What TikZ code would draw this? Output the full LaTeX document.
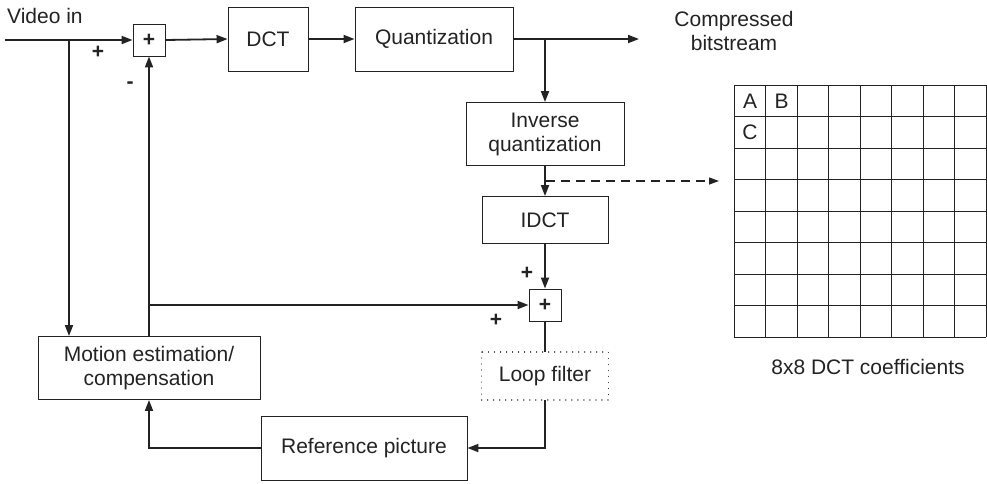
\documentclass[tikz,border=0pt]{standalone}
\usepackage{fontspec}
\setmainfont{Liberation Sans}
\usetikzlibrary{arrows.meta,calc}
\definecolor{ink}{RGB}{35,35,35}
\begin{document}
\begin{tikzpicture}[x=1pt,y=-1pt,
  every node/.style={font=\fontsize{21}{24}\selectfont, text=ink},
  blk/.style={draw=ink, line width=0.9pt, inner sep=0pt, align=center},
  sumbox/.style={draw=ink, line width=0.9pt, minimum width=32pt, minimum height=32pt, inner sep=0pt, font=\fontsize{21}{24}\selectfont\bfseries},
  conn/.style={draw=ink, line width=1.8pt},
  arr/.style={conn, -{Triangle[length=11pt,width=8pt]}},
  dasharr/.style={draw=ink, line width=1.3pt, dash pattern=on 9pt off 6pt, -{Triangle[length=10pt,width=7pt]}},
  sign/.style={font=\fontsize{21}{24}\selectfont\bfseries, inner sep=0pt},
  cell/.style={draw=ink, line width=0.8pt}
]
\useasboundingbox (0,0) rectangle (987,483);
\fill[white] (0,0) rectangle (987,483);

% nodes
\node[anchor=base west, inner sep=0pt] (vin) at (7,23) {Video in};
\coordinate (in) at (5,40);
\node[sumbox] (s1) at (149,40) {+};
\node[blk, minimum width=80pt, minimum height=64pt] (dct) at (268,39) {DCT};
\node[blk, minimum width=158pt, minimum height=64pt] (q) at (434,39) {Quantization};
\coordinate (out) at (639,39);
\node[align=center, inner sep=0pt] (cb) at (734,31) {Compressed\\bitstream};
\node[blk, minimum width=158pt, minimum height=63pt] (iq) at (545,134) {Inverse\\quantization};
\node[blk, minimum width=126pt, minimum height=47pt] (idct) at (545,220) {IDCT};
\node[sumbox] (s2) at (545,305) {+};
\node[blk, draw=none, minimum width=126pt, minimum height=47pt] (lf) at (545,376) {Loop filter};
\draw[ink, line width=1.2pt, dash pattern=on 0.01pt off 6pt, line cap=round] (lf.north west) rectangle (lf.south east);
\node[blk, minimum width=206pt, minimum height=64pt] (ref) at (364,448) {Reference picture};
\node[blk, minimum width=222pt, minimum height=63pt] (me) at (149,368) {Motion estimation/\\compensation};

% signs
\node[sign] (p1) at (98,52) {+};
\node[sign] (m1) at (130,85) {-};
\node[sign] (p2) at (527,273) {+};
\node[sign] (p3) at (496,320) {+};

% connectors
\coordinate (b1) at (69,40);
\draw[arr] (in) -- (s1.west);
\draw[arr] (b1) -- (b1 |- me.north);
\draw[arr] (s1.east) -- (dct.west);
\draw[arr] (dct.east) -- (q.west);
\draw[arr] (q.east) -- (out);
\coordinate (b2) at (q.east -| iq.north);
\draw[arr] (b2) -- (iq.north);
\draw[arr] (iq.south) -- (idct.north);
\coordinate (d1) at (546,181);
\coordinate (d2) at (719,181);
\draw[dasharr] (d1) -- (d2);
\draw[arr] (idct.south) -- (s2.north);
\draw[arr] (me.north) -- (s1.south);
\coordinate (b3) at (me.north |- s2.west);
\draw[arr] (b3) -- (s2.west);
\draw[conn] (s2.south) -- (lf.north);
\draw[arr] (lf.south) |- (ref.east);
\draw[arr] (ref.west) -| (me.south);

% 8x8 grid
\foreach \i in {0,...,8} {
  \draw[cell] (734+\i*31.5,85) -- (734+\i*31.5,337);
  \draw[cell] (734,85+\i*31.5) -- (986,85+\i*31.5);
}
\node (ga) at (750,101) {A};
\node (gb) at (781.5,101) {B};
\node (gc) at (750,132.5) {C};
\node (cap) at (868,367) {8x8 DCT coefficients};
\end{tikzpicture}
\end{document}
